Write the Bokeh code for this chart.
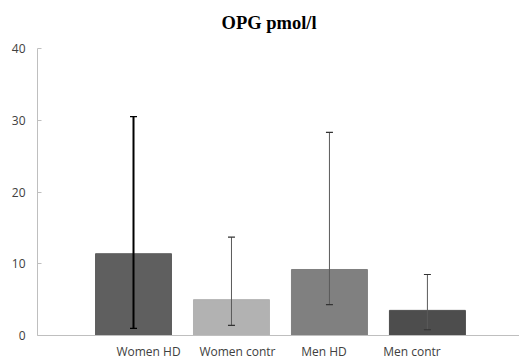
from bokeh.plotting import figure
from bokeh.models import ColumnDataSource, Range1d, FixedTicker, Whisker, TeeHead, Label
from bokeh.embed import file_html
from bokeh.resources import INLINE

# ---- data ----
title_text = "OPG pmol/l"
groups = ["Women HD", "Women contr", "Men HD", "Men contr"]
means = [11.4, 5.0, 9.2, 3.5]
upper = [30.5, 13.7, 28.3, 8.5]
lower = [1.0, 1.4, 4.3, 0.8]
bar_colors = ["#5f5f5f", "#b2b2b2", "#808080", "#4d4d4d"]
y_ticks = [0, 10, 20, 30, 40]

# ---- layout constants ----
label_offsets = [0.153, 0.061, -0.056, -0.158]
xpos = list(range(len(groups)))
frame_h = 335.0      # expected frame height in px (frame starts at canvas top)
top_gap = 48.0       # px between canvas top and the top tick
y_end = y_ticks[-1] * frame_h / (frame_h - top_gap)

src = ColumnDataSource(dict(x=xpos, top=means, color=bar_colors))

xr = Range1d(-0.98, 3.94)
yr = Range1d(0, y_end)
p = figure(width=519, height=362, output_backend="svg", toolbar_location=None,
           x_range=xr, y_range=yr,
           min_border_left=37, min_border_right=0, min_border_top=0, min_border_bottom=20)

title = Label(x=xr.start, y=yr.end, x_units="data", y_units="data",
              x_offset=184, y_offset=-22, text=title_text,
              text_font="Liberation Serif", text_font_size="18.5px",
              text_font_style="bold", text_color="#000000",
              text_align="left", text_baseline="middle")
p.add_layout(title)

p.vbar(x="x", top="top", width=0.7755, bottom=0, fill_color="color", line_color="color", source=src)

# error bars
for i in range(len(groups)):
    s = ColumnDataSource(dict(base=[xpos[i]], up=[upper[i]], lo=[lower[i]]))
    if i == 0:
        lc, lw, hc = "#000000", 2, "#000000"
    else:
        lc, lw, hc = "#5a5a5a", 1, "#333333"
    w = Whisker(base="base", upper="up", lower="lo", source=s, dimension="height",
                line_color=lc, line_width=lw, level="overlay",
                upper_head=TeeHead(size=7, line_color=hc, line_width=1.2),
                lower_head=TeeHead(size=7, line_color=hc, line_width=1.2))
    p.add_layout(w)

p.xgrid.visible = False
p.ygrid.visible = False
p.outline_line_color = None

# y axis
p.yaxis.ticker = FixedTicker(ticks=y_ticks)
p.yaxis.bounds = (y_ticks[0], y_ticks[-1])
p.yaxis.axis_line_color = "#bfbfbf"
p.yaxis.major_tick_line_color = "#bfbfbf"
p.yaxis.major_tick_in = 4
p.yaxis.major_tick_out = 0
p.yaxis.minor_tick_line_color = None
p.yaxis.major_label_standoff = 12
p.yaxis.major_label_text_font = "Open Sans"
p.yaxis.major_label_text_font_size = "12px"
p.yaxis.major_label_text_color = "#404040"

# x axis with group labels
tick_pos = [xpos[i] + label_offsets[i] for i in range(len(groups))]
p.xaxis.ticker = FixedTicker(ticks=tick_pos)
p.xaxis.major_label_overrides = {t: g for t, g in zip(tick_pos, groups)}
p.xaxis.axis_line_color = "#bfbfbf"
p.xaxis.major_tick_line_color = None
p.xaxis.major_tick_in = 0
p.xaxis.major_tick_out = 0
p.xaxis.minor_tick_line_color = None
p.xaxis.minor_tick_in = 0
p.xaxis.minor_tick_out = 0
p.xaxis.major_label_standoff = 7
p.xaxis.major_label_text_font = "Open Sans"
p.xaxis.major_label_text_font_size = "12px"
p.xaxis.major_label_text_color = "#404040"

open("out.html", "w").write(file_html(p, INLINE))
